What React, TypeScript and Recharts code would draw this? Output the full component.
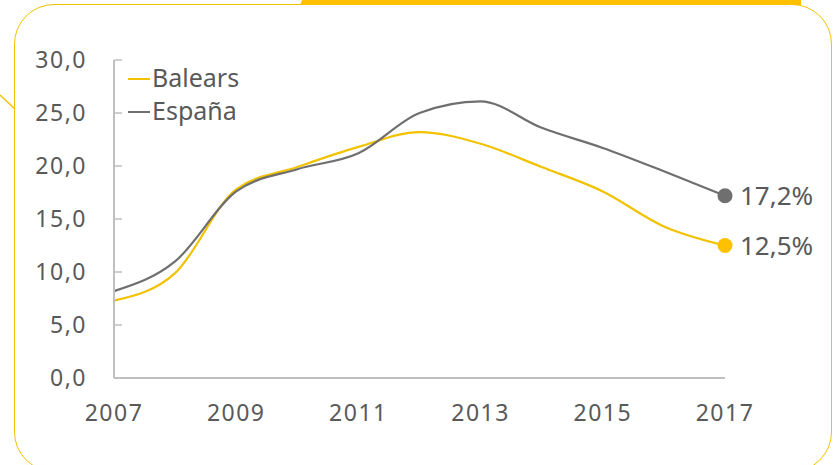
import { LineChart, Line, XAxis, YAxis, Legend } from 'recharts'

const years = [2007, 2008, 2009, 2010, 2011, 2012, 2013, 2014, 2015, 2016, 2017]
const balears = [7.3, 9.9, 17.8, 19.9, 21.8, 23.2, 22.1, 19.9, 17.6, 14.3, 12.5]
const espana = [8.2, 11.0, 17.6, 19.7, 21.2, 25.0, 26.1, 23.6, 21.7, 19.5, 17.2]
const xTicks = [2007, 2009, 2011, 2013, 2015, 2017]
const yTicks = [0, 5, 10, 15, 20, 25, 30]

const data = years.map((year, i) => ({ year, balears: balears[i], espana: espana[i] }))

const YELLOW = '#F2C200'
const GRAY = '#6F6F6F'
const TEXT = '#595959'
const FONT = '"Noto Sans", sans-serif'

const fmt = (v: number) => v.toFixed(1).replace('.', ',')

// dot + value label only on the last point
const endDot = (color: string) => (props: any) => {
  const { cx, cy, index, value } = props
  if (index !== data.length - 1) return <g key={`d${index}`} />
  return (
    <g key={`d${index}`}>
      <circle cx={cx} cy={cy} r={7.5} fill={color} />
      <text x={cx + 15} y={cy} dy="0.36em" fill={TEXT} fontSize={26} fontFamily={FONT}>
        {fmt(Array.isArray(value) ? value[1] : value)}%
      </text>
    </g>
  )
}

const LegendBox = (props: any) => {
  const { payload } = props
  return (
    <div style={{ fontFamily: FONT, fontSize: 25, color: TEXT }}>
      {(payload || []).map((p: any) => (
        <div key={p.value} style={{ display: 'flex', alignItems: 'center', height: 33, lineHeight: '33px' }}>
          <span style={{ display: 'inline-block', width: 22, height: 2, background: p.color, marginRight: 2, marginTop: 3 }} />
          <span>{p.value}</span>
        </div>
      ))}
    </div>
  )
}

const tickStyle = { fill: TEXT, fontSize: 23, fontFamily: FONT, letterSpacing: 1.5 }

export default function App() {
  return (
    <div style={{ position: 'absolute', left: 0, top: 0, width: 834, height: 465, overflow: 'hidden', background: '#fff' }}>
      <div
        style={{
          position: 'absolute',
          left: 14,
          top: 4,
          width: 816,
          height: 466,
          border: `1.5px solid ${YELLOW}`,
          borderRadius: 40,
        }}
      />
      <div
        style={{
          position: 'absolute',
          left: 300,
          top: 0,
          width: 501,
          height: 5,
          background: '#FFC000',
          clipPath: 'polygon(2px 0, 100% 0, 100% 100%, 0 100%)',
        }}
      />
      <svg style={{ position: 'absolute', left: 0, top: 0 }} width={20} height={120}>
        <line x1={0} y1={95} x2={15} y2={109} stroke={YELLOW} strokeWidth={1.5} />
      </svg>
      <div style={{ position: 'absolute', left: 0, top: 0 }}>
        <LineChart width={834} height={465} data={data} margin={{ top: 60, right: 109, bottom: 37, left: 0 }}>
          <XAxis
            dataKey="year"
            type="number"
            domain={[2007, 2017]}
            ticks={xTicks}
            tickLine={false}
            tickSize={0}
            tickMargin={27}
            height={50}
            axisLine={{ stroke: '#BFBFBF', strokeWidth: 2 }}
            tick={tickStyle}
          />
          <YAxis
            domain={[0, 30]}
            ticks={yTicks}
            width={114}
            tickSize={-8}
            tickMargin={35}
            tickFormatter={fmt}
            axisLine={{ stroke: '#BFBFBF', strokeWidth: 2 }}
            tickLine={{ stroke: '#BFBFBF', strokeWidth: 1.5 }}
            tick={tickStyle}
          />
          <Legend
            verticalAlign="middle"
            align="center"
            layout="vertical"
            content={LegendBox}
            wrapperStyle={{ top: 61, left: 128, width: 200 }}
          />
          <Line
            name="Balears"
            dataKey="balears"
            type="monotone"
            stroke={YELLOW}
            strokeWidth={2.2}
            dot={endDot('#FFC000')}
            activeDot={false}
            isAnimationActive={false}
          />
          <Line
            name="España"
            dataKey="espana"
            type="monotone"
            stroke={GRAY}
            strokeWidth={2.2}
            dot={endDot(GRAY)}
            activeDot={false}
            isAnimationActive={false}
          />
        </LineChart>
      </div>
    </div>
  )
}
